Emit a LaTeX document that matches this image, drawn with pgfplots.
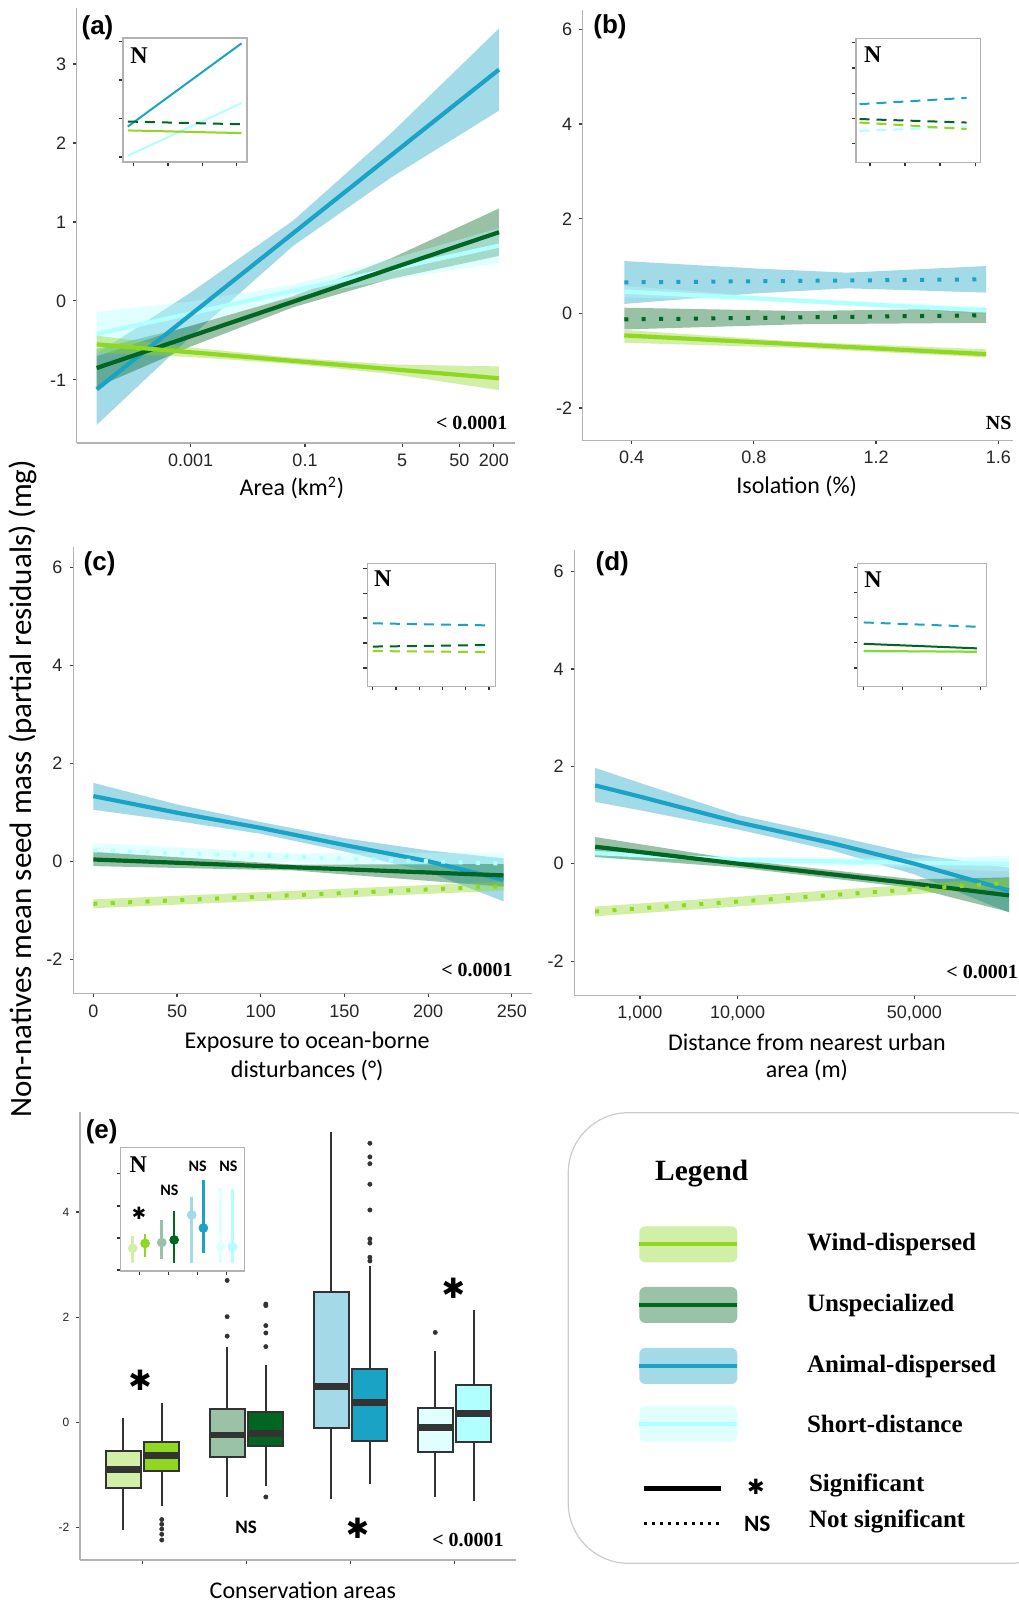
\documentclass[border=0pt]{standalone}
\usepackage{fontspec}
\setmainfont{Liberation Sans}
\newfontfamily\calfont{Carlito}
\newfontfamily\tnr{Liberation Serif}
\newfontfamily\dvs{DejaVu Sans}
\usepackage{pgfplots}
\pgfplotsset{compat=1.18}
\usepgfplotslibrary{statistics}
\newcommand{\px}[2]{({(#1)*0.5pt},{(1602-(#2))*0.5pt})}
\definecolor{cW}{HTML}{8FD723}
\definecolor{cU}{HTML}{006622}
\definecolor{cA}{HTML}{1BA3C6}
\definecolor{cS}{HTML}{B2FFFF}
\definecolor{bW}{HTML}{D2EFA7}
\definecolor{bU}{HTML}{99C2A6}
\definecolor{bA}{HTML}{A4DAE8}
\definecolor{bS}{HTML}{E0FFFF}
\pgfplotsset{
 main/.style={scale only axis, anchor=south west, axis x line=bottom, axis y line=left,
   axis line style={-, draw=gray!60, line width=0.6pt}, tick align=outside, major tick length=1.8pt,
   tick style={draw=black!75, line width=0.6pt},
   ticklabel style={font=\fontsize{9}{10}\selectfont, text=black!85},
   /pgf/number format/assume math mode=true},
 inset/.style={scale only axis, anchor=south west, axis line style={draw=gray!60, line width=0.7pt},
   xtick pos=bottom, ytick pos=left, tick align=outside, major tick length=2pt,
   tick style={draw=black!80, line width=0.6pt}, xticklabels={}, yticklabels={}},
 sig/.style={line width=2.1pt},
 ns/.style={line width=2pt, dash pattern=on 2pt off 6.7pt},
 band/.style={draw=none, fill opacity=0.4},
 idash/.style={line width=1pt, dash pattern=on 5pt off 3.5pt},
 isol/.style={line width=1pt},
 bx/.style={draw=black!80, line width=1pt, solid, mark=*, mark size=1.1pt,
   mark options={draw=black!80, fill=black!80, line width=0.2pt},
   boxplot/every median/.style={line width=3.4pt, draw=black!80}},
}
\newcommand{\tnrb}{\tnr\bfseries}
\begin{document}
\begin{tikzpicture}
\useasboundingbox (0,0) rectangle (509pt,801pt);
\fill[white] (0,0) rectangle (509pt,801pt);

% ---------------- (a) ----------------
\begin{axis}[main, at={(38.35pt,579.5pt)}, width=219.15pt, height=217.5pt,
  xmin=-4.99, xmax=2.67, ymin=-1.8, ymax=3.71,
  xtick={-3,-1,0.699,1.699,2.301}, xticklabels={0.001,0.1,5,50,200}, ytick={-1,0,1,2,3}]
\addplot[band, fill=cA] coordinates {(-4.64,-1.57) (-3,-0.455) (-1.2,0.701) (0.5,1.561) (2.39,2.41) (2.39,3.45) (0.5,2.121) (-1.2,1.021) (-3,0.105) (-4.64,-0.67)} -- cycle;
\addplot[band, fill=cU] coordinates {(-4.64,-1.09) (-3,-0.579) (-1.2,-0.079) (0.5,0.278) (2.39,0.57) (2.39,1.17) (0.5,0.538) (-1.2,0.061) (-3,-0.319) (-4.64,-0.61)} -- cycle;
\addplot[band, fill=cS] coordinates {(-4.64,-0.70) (-3,-0.309) (-1.2,0.047) (0.5,0.267) (2.39,0.48) (2.39,0.92) (0.5,0.527) (-1.2,0.207) (-3,-0.009) (-4.64,-0.14)} -- cycle;
\addplot[band, fill=cW] coordinates {(-4.64,-0.66) (-3,-0.71) (-1.2,-0.80) (0.5,-0.925) (2.39,-1.13) (2.39,-0.83) (0.5,-0.805) (-1.2,-0.72) (-3,-0.59) (-4.64,-0.44)} -- cycle;
\addplot[sig, cS] coordinates {(-4.64,-0.42) (2.39,0.70)};
\addplot[sig, cA] coordinates {(-4.64,-1.12) (2.39,2.93)};
\addplot[sig, cU] coordinates {(-4.64,-0.85) (2.39,0.87)};
\addplot[sig, cW] coordinates {(-4.64,-0.55) (2.39,-0.98)};
\end{axis}
\begin{axis}[inset, at={(61.5pt,720pt)}, width=62pt, height=62pt,
  xmin=-0.31, xmax=3.30, ymin=-0.13, ymax=3.09, xtick={0,1,2,3}, ytick={0,1,2,3}]
\addplot[isol, cA] coordinates {(-0.17,0.79) (3.14,2.95)};
\addplot[isol, cS] coordinates {(-0.17,0.03) (3.14,1.40)};
\addplot[idash, cU] coordinates {(-0.17,0.92) (3.14,0.85)};
\addplot[isol, cW] coordinates {(-0.17,0.69) (3.14,0.62)};
\end{axis}

% ---------------- (b) ----------------
\begin{axis}[main, at={(291.35pt,580.65pt)}, width=215.15pt, height=215.35pt,
  xmin=0.24, xmax=1.648, ymin=-2.69, ymax=6.41,
  xtick={0.4,0.8,1.2,1.6}, xticklabels={0.4,0.8,1.2,1.6}, ytick={-2,0,2,4,6}]
\addplot[band, fill=cA] coordinates {(0.376,0.20) (0.8,0.42) (1.104,0.53) (1.56,0.44) (1.56,1.00) (1.104,0.86) (0.8,0.95) (0.376,1.106)} -- cycle;
\addplot[band, fill=cS] coordinates {(0.376,0.34) (0.8,0.27) (1.2,0.13) (1.56,-0.02) (1.56,0.14) (1.2,0.23) (0.8,0.37) (0.376,0.58)} -- cycle;
\addplot[band, fill=cU] coordinates {(0.376,-0.34) (0.95,-0.23) (1.56,-0.20) (1.56,0.105) (0.95,0.05) (0.376,0.12)} -- cycle;
\addplot[band, fill=cW] coordinates {(0.376,-0.62) (0.95,-0.73) (1.56,-0.93) (1.56,-0.76) (0.95,-0.60) (0.376,-0.35)} -- cycle;
\addplot[sig, cS] coordinates {(0.376,0.46) (0.8,0.32) (1.2,0.18) (1.56,0.06)};
\addplot[ns, cA] coordinates {(0.376,0.655) (1.56,0.72)};
\addplot[ns, cU] coordinates {(0.376,-0.127) (1.56,-0.04)};
\addplot[sig, cW] coordinates {(0.376,-0.466) (1.56,-0.86)};
\end{axis}
\begin{axis}[inset, at={(428pt,719.85pt)}, width=62.35pt, height=62pt,
  xmin=-0.4, xmax=3.16, ymin=-0.75, ymax=4.18, xtick={0,1,2,3}, ytick={0,1,2,3,4}]
\addplot[idash, cA] coordinates {(-0.3,1.56) (2.76,1.81)};
\addplot[idash, cS] coordinates {(-0.3,0.50) (2.76,0.66)};
\addplot[idash, cU] coordinates {(-0.3,0.97) (2.76,0.83)};
\addplot[idash, cW] coordinates {(-0.3,0.83) (2.76,0.57)};
\end{axis}

% ---------------- (c) ----------------
\begin{axis}[main, at={(36.55pt,304.05pt)}, width=229.35pt, height=223.5pt,
  xmin=-12.1, xmax=261.9, ymin=-2.71, ymax=6.42,
  xtick={0,50,100,150,200,250}, xticklabels={0,50,100,150,200,250}, ytick={-2,0,2,4,6}]
\addplot[band, fill=cA] coordinates {(0,1.05) (50,0.82) (100,0.56) (150,0.20) (200,-0.22) (245,-0.82) (245,0.06) (200,0.22) (150,0.47) (100,0.80) (50,1.16) (0,1.60)} -- cycle;
\addplot[band, fill=cS] coordinates {(0,0.07) (120,-0.02) (245,-0.31) (245,0.17) (120,0.16) (0,0.37)} -- cycle;
\addplot[band, fill=cU] coordinates {(0,-0.10) (120,-0.19) (245,-0.52) (245,-0.06) (120,-0.07) (0,0.19)} -- cycle;
\addplot[band, fill=cW] coordinates {(0,-0.96) (245,-0.60) (245,-0.42) (0,-0.78)} -- cycle;
\addplot[sig, cA] coordinates {(0,1.33) (50,0.99) (100,0.68) (150,0.33) (200,0.0) (245,-0.38)};
\addplot[ns, cS] coordinates {(0,0.22) (245,-0.05)};
\addplot[sig, cU] coordinates {(0,0.035) (245,-0.29)};
\addplot[ns, cW] coordinates {(0,-0.87) (245,-0.51)};
\end{axis}
\begin{axis}[inset, at={(183.6pt,457.85pt)}, width=64.2pt, height=61.45pt,
  xmin=-0.24, xmax=5.28, ymin=-0.73, ymax=4.19, xtick={0,1,2,3,4,5}, ytick={0,1,2,3,4}]
\addplot[idash, cA] coordinates {(0,1.79) (4.9,1.71)};
\addplot[idash, cU] coordinates {(0,0.86) (4.9,0.92)};
\addplot[idash, cW] coordinates {(0,0.68) (4.9,0.64)};
\end{axis}

% ---------------- (d) ----------------
\begin{axis}[main, at={(287.2pt,303.4pt)}, width=220.8pt, height=222.45pt,
  xmin=-14.2, xmax=294.6, ymin=-2.70, ymax=6.44,
  xtick={31.623,100,223.607}, xticklabels={{1,000},{10,000},{50,000}}, ytick={-2,0,2,4,6}]
\addplot[band, fill=cA] coordinates {(0.3,1.27) (31.6,1.10) (100.7,0.70) (166.4,0.27) (223.8,-0.22) (289.7,-1.0) (289.7,-0.08) (223.8,0.20) (166.4,0.58) (100.7,1.00) (31.6,1.66) (0.3,1.97)} -- cycle;
\addplot[band, fill=cS] coordinates {(0.3,0.10) (100,0.02) (224,-0.08) (289.7,-0.16) (289.7,0.16) (224,0.12) (100,0.14) (0.3,0.34)} -- cycle;
\addplot[band, fill=cU] coordinates {(0.3,0.14) (100.7,-0.08) (223.8,-0.50) (289.7,-0.99) (289.7,-0.28) (223.8,-0.32) (100.7,0.08) (0.3,0.55)} -- cycle;
\addplot[band, fill=cW] coordinates {(0.3,-1.08) (289.7,-0.49) (289.7,-0.29) (0.3,-0.88)} -- cycle;
\addplot[sig, cS] coordinates {(0.3,0.22) (100,0.08) (224,0.02) (289.7,0.0)};
\addplot[sig, cA] coordinates {(0.3,1.61) (31.6,1.38) (100.7,0.85) (166.4,0.42) (223.8,0.0) (289.7,-0.55)};
\addplot[sig, cU] coordinates {(0.3,0.35) (100.7,0.0) (223.8,-0.41) (289.7,-0.65)};
\addplot[ns, cW] coordinates {(0.3,-0.98) (289.7,-0.39)};
\end{axis}
\begin{axis}[inset, at={(428.75pt,457.85pt)}, width=64.55pt, height=61.45pt,
  xmin=-0.16, xmax=3.15, ymin=-0.73, ymax=4.16, xtick={0,1,2,3}, ytick={0,1,2,3,4}]
\addplot[idash, cA] coordinates {(0,1.81) (2.9,1.64)};
\addplot[isol, cS] coordinates {(0,0.63) (2.9,0.68)};
\addplot[isol, cU] coordinates {(0,0.96) (2.9,0.78)};
\addplot[isol, cW] coordinates {(0,0.68) (2.9,0.64)};
\end{axis}

% ---------------- (e) ----------------
\begin{axis}[main, at={(40pt,21pt)}, width=218pt, height=224.15pt,
  xmin=0.40, xmax=4.59, ymin=-2.62, ymax=5.91,
  xtick={1,2,3,4}, xticklabels={}, ytick={-2,0,2,4},
  ticklabel style={font=\fontsize{6}{7}\selectfont},
  boxplot/draw direction=y]
\addplot[bx, fill=bW, boxplot prepared={draw position=0.814, lower whisker=-2.05, lower quartile=-1.257, median=-0.895, upper quartile=-0.54, upper whisker=0.076, box extend=0.336, whisker extend=0}] coordinates {};
\addplot[bx, fill=cW, boxplot prepared={draw position=1.186, lower whisker=-1.59, lower quartile=-0.927, median=-0.635, upper quartile=-0.37, upper whisker=0.36, box extend=0.336, whisker extend=0}] table[row sep=\\, y index=0] {-1.85\\ -1.94\\ -2.03\\ -2.13\\ -2.24\\};
\addplot[bx, fill=bU, boxplot prepared={draw position=1.814, lower whisker=-1.43, lower quartile=-0.654, median=-0.24, upper quartile=0.254, upper whisker=1.44, box extend=0.336, whisker extend=0}] table[row sep=\\, y index=0] {1.64\\ 2.01\\ 2.70\\};
\addplot[bx, fill=cU, boxplot prepared={draw position=2.186, lower whisker=-1.21, lower quartile=-0.444, median=-0.21, upper quartile=0.2, upper whisker=1.09, box extend=0.336, whisker extend=0}] table[row sep=\\, y index=0] {-1.42\\ 1.44\\ 1.70\\ 1.84\\ 2.22\\ 2.25\\};
\addplot[bx, fill=bA, boxplot prepared={draw position=2.814, lower whisker=-1.46, lower quartile=-0.114, median=0.68, upper quartile=2.48, upper whisker=5.52, box extend=0.336, whisker extend=0}] coordinates {};
\addplot[bx, fill=cA, boxplot prepared={draw position=3.186, lower whisker=-1.17, lower quartile=-0.35, median=0.375, upper quartile=1.01, upper whisker=2.98, box extend=0.336, whisker extend=0}] table[row sep=\\, y index=0] {3.07\\ 3.14\\ 3.41\\ 3.49\\ 4.04\\ 4.53\\ 4.92\\ 5.05\\ 5.31\\};
\addplot[bx, fill=bS, boxplot prepared={draw position=3.814, lower whisker=-1.43, lower quartile=-0.56, median=-0.10, upper quartile=0.267, upper whisker=1.35, box extend=0.336, whisker extend=0}] table[row sep=\\, y index=0] {1.71\\};
\addplot[bx, fill=cS, boxplot prepared={draw position=4.186, lower whisker=-1.50, lower quartile=-0.37, median=0.17, upper quartile=0.71, upper whisker=2.13, box extend=0.336, whisker extend=0}] coordinates {};
\end{axis}
\begin{axis}[inset, at={(60.35pt,165.5pt)}, width=61.8pt, height=61.85pt,
  xmin=0.37, xmax=4.60, ymin=-0.03, ymax=3.83, xtick={1,2,3,4}, ytick={0,1,2,3}]
\pgfplotsset{pr/.style={only marks, mark=*, mark size=2.2pt, mark options={draw=#1, fill=#1}, error bars/.cd, y dir=both, y explicit, error mark=none, error bar style={line width=1.3pt, draw=#1}}}
\addplot[pr=bW] coordinates {(0.78,0.68) += (0,0.38) -= (0,0.45)};
\addplot[pr=cW] coordinates {(1.205,0.83) += (0,0.28) -= (0,0.41)};
\addplot[pr=bU] coordinates {(1.775,0.86) += (0,0.70) -= (0,0.53)};
\addplot[pr=cU] coordinates {(2.20,0.94) += (0,0.90) -= (0,0.71)};
\addplot[pr=bA] coordinates {(2.80,1.72) += (0,0.55) -= (0,1.49)};
\addplot[pr=cA] coordinates {(3.20,1.31) += (0,1.50) -= (0,0.79)};
\addplot[pr=bS] coordinates {(3.79,0.73) += (0,1.82) -= (0,0.50)};
\addplot[pr=cS] coordinates {(4.20,0.71) += (0,1.81) -= (0,0.50)};
\end{axis}

% ---------------- texts ----------------
\foreach \l/\x/\y in {(a)/97.5/27.5, (b)/610/26.7, (c)/99.6/564, (d)/612.3/563.4, (e)/101.7/1131.7}
  \node[font=\bfseries\fontsize{13}{14}\selectfont] at \px{\x}{\y} {\l};
\foreach \x/\y in {139/55.5, 872.7/55, 382.7/578.6, 873/579.6, 138.3/1165}
  \node[font=\tnrb\fontsize{12}{13}\selectfont] at \px{\x}{\y} {N};
\foreach \t/\x/\y in {{< 0.0001}/471.7/423.3, NS/998.7/423.3, {< 0.0001}/477/970.4, {< 0.0001}/982.1/972.2, {< 0.0001}/468/1540}
  \node[font=\tnrb\fontsize{10}{11}\selectfont] at \px{\x}{\y} {\t};

\node[font=\calfont\fontsize{12}{13}\selectfont] at \px{292}{488} {Area (km\textsuperscript{2})};
\node[font=\calfont\fontsize{12}{13}\selectfont] at \px{796.7}{486.7} {Isolation (\%)};
\node[font=\calfont\fontsize{12}{13}\selectfont] at \px{307.2}{1042} {Exposure to ocean-borne};
\node[font=\calfont\fontsize{12}{13}\selectfont] at \px{307.2}{1070.3} {disturbances (°)};
\node[font=\calfont\fontsize{12}{13}\selectfont] at \px{806.9}{1042} {Distance from nearest urban};
\node[font=\calfont\fontsize{12}{13}\selectfont] at \px{806.9}{1070.3} {area (m)};
\node[font=\calfont\fontsize{12}{13}\selectfont] at \px{302.8}{1590} {Conservation areas};
\node[font=\calfont\fontsize{15.5}{17}\selectfont, rotate=90] at \px{22.5}{789} {Non-natives mean seed mass (partial residuals) (mg)};

% (e) annotations
\foreach \x/\y in {140/1380, 453.3/1288.3, 357.7/1528.3}
  \node[font=\dvs\fontsize{14}{15}\selectfont] at \px{\x}{\y} {✱};
\node[font=\calfont\bfseries\fontsize{9.5}{10}\selectfont] at \px{246}{1527.7} {NS};
\node[font=\dvs\fontsize{8.5}{9}\selectfont] at \px{139}{1213.3} {✱};
\foreach \x/\y in {169.3/1190.7, 197.7/1166, 228.3/1166.7}
  \node[font=\calfont\bfseries\fontsize{8}{9}\selectfont] at \px{\x}{\y} {NS};

% ---------------- legend ----------------
\draw[gray!40, line width=0.6pt, rounded corners=30pt] \px{568.3}{1112.7} rectangle \px{1070}{1563.3};
\node[font=\tnrb\fontsize{14.7}{16}\selectfont] at \px{701.7}{1173.3} {Legend};
\foreach \b/\c/\y/\t in {bW/cW/1244.3/Wind-dispersed, bU/cU/1305/Unspecialized, bA/cA/1366/Animal-dispersed, bS/cS/1424/Short-distance}{
  \fill[\b, rounded corners=3pt] \px{639.3}{\y-18} rectangle \px{737.3}{\y+18};
  \draw[\c, line width=2pt] \px{639.3}{\y} -- \px{737.3}{\y};
  \node[anchor=west, font=\tnrb\fontsize{12.5}{14}\selectfont] at \px{800}{\y} {\t};
}
\draw[black, line width=2.5pt] \px{644}{1488.3} -- \px{721}{1488.3};
\draw[black, line width=1.7pt, dash pattern=on 1.7pt off 2.3pt] \px{644}{1523.3} -- \px{721}{1523.3};
\node[font=\dvs\fontsize{10.5}{11}\selectfont] at \px{756}{1486.7} {✱};
\node[font=\calfont\bfseries\fontsize{11.7}{13}\selectfont] at \px{757.3}{1524} {NS};
\node[anchor=west, font=\tnrb\fontsize{12.5}{14}\selectfont] at \px{802}{1485} {Significant};
\node[anchor=west, font=\tnrb\fontsize{12.5}{14}\selectfont] at \px{802}{1521.7} {Not significant};
\end{tikzpicture}
\end{document}
